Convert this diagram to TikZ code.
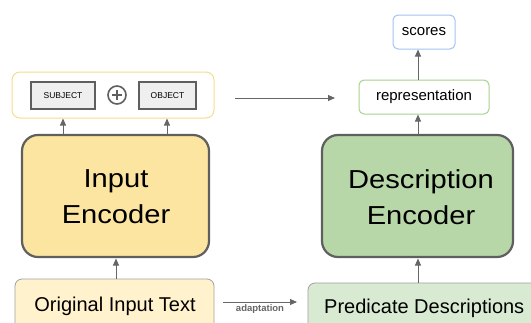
\documentclass[tikz,border=0pt]{standalone}
\usepackage{fontspec}
\setmainfont{Liberation Sans}
\usetikzlibrary{arrows.meta}
\definecolor{encborder}{HTML}{5F5F5F}
\definecolor{inenc}{HTML}{FCE5A0}
\definecolor{descenc}{HTML}{B7D7A8}
\definecolor{origfill}{HTML}{FFF2CC}
\definecolor{predfill}{HTML}{D9EAD3}
\definecolor{boxgray}{HTML}{A0A0A0}
\definecolor{contborder}{HTML}{F7DC8A}
\definecolor{repborder}{HTML}{A9D18E}
\definecolor{scoreborder}{HTML}{A4C2F4}
\definecolor{tokfill}{HTML}{EFEFEF}
\definecolor{arrowgray}{HTML}{666666}
\tikzset{
  encbox/.style={draw=encborder, line width=2.2pt, rounded corners=16pt, inner sep=0pt, align=center},
  tokbox/.style={draw=encborder, line width=2.8pt, fill=tokfill, inner sep=0pt, font=\fontsize{8.5}{10}\selectfont},
  smallbox/.style={fill=white, line width=1pt, rounded corners=5pt, inner sep=0pt, font=\fontsize{15}{18}\selectfont},
  inbox/.style={draw=boxgray, line width=0.8pt, rounded corners=7pt, inner sep=0pt},
  arr/.style={draw=arrowgray, line width=0.9pt, -{Triangle[length=7pt,width=6pt]}},
}
\begin{document}
\begin{tikzpicture}[x=1pt,y=-1pt]
\useasboundingbox (0,0) rectangle (531,322);
\clip (0,0) rectangle (531,322);
% top container
\node[draw=contborder, line width=1pt, rounded corners=8pt, minimum width=202pt, minimum height=46pt, inner sep=0pt] (cont) at (113,95) {};
\node[tokbox, minimum width=64pt, minimum height=27pt] (subj) at (63,95.5) {SUBJECT};
\node[tokbox, minimum width=57pt, minimum height=27pt] (obj) at (167.5,95.5) {OBJECT};
\node[draw=encborder, line width=1.6pt, circle, minimum size=18pt, inner sep=0pt] (plus) at (117,95) {};
\draw[encborder, line width=1.6pt] (plus.center) ++(-5,0) -- ++(10,0);
\draw[encborder, line width=1.6pt] (plus.center) ++(0,-5) -- ++(0,10);
% encoders
\node[encbox, fill=inenc, minimum width=187pt, minimum height=122pt] (ienc) at (115.5,196) {};
\node[font=\fontsize{26}{36}\selectfont, align=center, inner sep=0pt] (ienct) at (116,197) {\scalebox{1.12}[1]{Input}\\\scalebox{1.12}[1]{Encoder}};
\node[encbox, fill=descenc, minimum width=191pt, minimum height=122pt] (denc) at (417.5,196) {};
\node[font=\fontsize{26}{36}\selectfont, align=center, inner sep=0pt] (denct) at (421,197) {\scalebox{1.12}[1]{Description}\\\scalebox{1.12}[1]{Encoder}};
% bottom boxes
\node[inbox, fill=origfill, minimum width=199pt, minimum height=60pt] (orig) at (114.5,309) {};
\node[font=\fontsize{20}{24}\selectfont, anchor=base, inner sep=0pt] (origt) at (115,311) {Original Input Text};
\node[inbox, fill=predfill, minimum width=240pt, minimum height=60pt] (pred) at (428,313) {};
\node[font=\fontsize{20}{24}\selectfont, anchor=base west, inner sep=0pt] (predt) at (324,313) {Predicate Descriptions};
% right top
\node[smallbox, draw=repborder, minimum width=130pt, minimum height=34pt] (rep) at (424,97) {representation};
\node[smallbox, draw=scoreborder, minimum width=62pt, minimum height=34pt] (sc) at (424,32) {scores};
% arrows
\coordinate (s1) at (63,134);
\coordinate (s2) at (167,134);
\draw[arr] (s1) -- (s1 |- cont.south);
\draw[arr] (s2) -- (s2 |- cont.south);
\coordinate (o1) at (116,279);
\coordinate (o2) at (116,258.5);
\draw[arr] (o1) -- (o2);
\coordinate (p1) at (418,283);
\coordinate (p2) at (418,258.5);
\draw[arr] (p1) -- (p2);
\coordinate (d1) at (418,134.5);
\draw[arr] (d1) -- (d1 |- rep.south);
\coordinate (r1) at (418,80);
\draw[arr] (r1) -- (r1 |- sc.south);
\coordinate (h1) at (235,98);
\coordinate (h2) at (335,98);
\draw[arr] (h1) -- (h2);
\coordinate (a1) at (223,302);
\coordinate (a2) at (297,302);
\draw[arr] (a1) -- node[below=2pt, font=\bfseries\fontsize{9.5}{11}\selectfont, text=arrowgray, inner sep=0pt] (adlab) {adaptation} (a2);
\end{tikzpicture}
\end{document}
